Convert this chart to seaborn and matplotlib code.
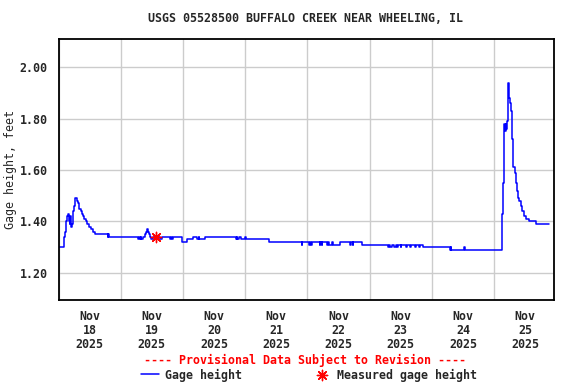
import numpy as np
import pandas as pd
import matplotlib
matplotlib.use('Agg')
import matplotlib.pyplot as plt
import matplotlib.dates as mdates
import matplotlib.ticker as mticker
import seaborn as sns

# gage height readings (time, feet)
gage_times = [
    '2025-11-18 00:00', '2025-11-18 01:45', '2025-11-18 02:00', '2025-11-18 02:15',
    '2025-11-18 02:30', '2025-11-18 02:45', '2025-11-18 03:00', '2025-11-18 03:15',
    '2025-11-18 03:30', '2025-11-18 03:45', '2025-11-18 04:00', '2025-11-18 04:15',
    '2025-11-18 04:30', '2025-11-18 04:45', '2025-11-18 05:00', '2025-11-18 05:15',
    '2025-11-18 05:30', '2025-11-18 05:45', '2025-11-18 06:00', '2025-11-18 06:15',
    '2025-11-18 06:30', '2025-11-18 07:00', '2025-11-18 07:15', '2025-11-18 07:30',
    '2025-11-18 07:45', '2025-11-18 08:00', '2025-11-18 08:30', '2025-11-18 09:00',
    '2025-11-18 09:30', '2025-11-18 10:00', '2025-11-18 10:30', '2025-11-18 11:00',
    '2025-11-18 11:45', '2025-11-18 12:30', '2025-11-18 13:15', '2025-11-18 14:00',
    '2025-11-18 19:00', '2025-11-18 19:15', '2025-11-18 19:30',
    '2025-11-19 06:45', '2025-11-19 07:00', '2025-11-19 07:15', '2025-11-19 07:45',
    '2025-11-19 08:00', '2025-11-19 08:30', '2025-11-19 09:30', '2025-11-19 09:45',
    '2025-11-19 10:15', '2025-11-19 10:30', '2025-11-19 10:45', '2025-11-19 11:15',
    '2025-11-19 11:45', '2025-11-19 12:15', '2025-11-19 15:15', '2025-11-19 15:45',
    '2025-11-19 19:00', '2025-11-19 19:30', '2025-11-19 19:45', '2025-11-19 20:15',
    '2025-11-19 23:45',
    '2025-11-20 01:30', '2025-11-20 04:00', '2025-11-20 05:30', '2025-11-20 06:00',
    '2025-11-20 06:15', '2025-11-20 08:30', '2025-11-20 20:30', '2025-11-20 20:45',
    '2025-11-20 21:00', '2025-11-20 21:30', '2025-11-20 22:15',
    '2025-11-21 00:00', '2025-11-21 00:15', '2025-11-21 09:15', '2025-11-21 21:45',
    '2025-11-21 22:00',
    '2025-11-22 00:45', '2025-11-22 01:00', '2025-11-22 01:15', '2025-11-22 01:45',
    '2025-11-22 04:45', '2025-11-22 05:00', '2025-11-22 05:30', '2025-11-22 05:45',
    '2025-11-22 07:30', '2025-11-22 08:00', '2025-11-22 08:15', '2025-11-22 09:30',
    '2025-11-22 09:45', '2025-11-22 12:30', '2025-11-22 16:30', '2025-11-22 16:45',
    '2025-11-22 17:30', '2025-11-22 17:45', '2025-11-22 21:00',
    '2025-11-23 07:00', '2025-11-23 07:30', '2025-11-23 08:00', '2025-11-23 08:30',
    '2025-11-23 09:30', '2025-11-23 10:00', '2025-11-23 10:30', '2025-11-23 11:00',
    '2025-11-23 12:00', '2025-11-23 12:15', '2025-11-23 14:00', '2025-11-23 14:30',
    '2025-11-23 15:30', '2025-11-23 16:00', '2025-11-23 17:30', '2025-11-23 18:00',
    '2025-11-23 19:00', '2025-11-23 19:30', '2025-11-23 20:30',
    '2025-11-24 07:00', '2025-11-24 07:15', '2025-11-24 07:30', '2025-11-24 12:30',
    '2025-11-24 12:45',
    '2025-11-25 03:00', '2025-11-25 03:15', '2025-11-25 03:45', '2025-11-25 04:00',
    '2025-11-25 04:15', '2025-11-25 04:30', '2025-11-25 04:45', '2025-11-25 05:00',
    '2025-11-25 05:15', '2025-11-25 05:30', '2025-11-25 05:45', '2025-11-25 06:15',
    '2025-11-25 06:30', '2025-11-25 06:45', '2025-11-25 07:15', '2025-11-25 08:00',
    '2025-11-25 08:30', '2025-11-25 08:45', '2025-11-25 09:15', '2025-11-25 09:45',
    '2025-11-25 10:15', '2025-11-25 10:45', '2025-11-25 11:30', '2025-11-25 12:30',
    '2025-11-25 13:30', '2025-11-25 16:00', '2025-11-25 21:15',
]
gage_values = [
    1.30, 1.30, 1.32, 1.34,
    1.36, 1.38, 1.40, 1.42,
    1.43, 1.43, 1.40, 1.39,
    1.42, 1.40, 1.38, 1.39,
    1.42, 1.44, 1.46, 1.47,
    1.49, 1.49, 1.48, 1.47,
    1.46, 1.45, 1.44, 1.43,
    1.42, 1.41, 1.40, 1.39,
    1.38, 1.37, 1.36, 1.35,
    1.34, 1.35, 1.34,
    1.33, 1.34, 1.33, 1.34,
    1.33, 1.34, 1.35, 1.36,
    1.37, 1.36, 1.35, 1.34,
    1.33, 1.34, 1.33, 1.34,
    1.33, 1.34, 1.33, 1.34,
    1.32,
    1.33, 1.34, 1.33, 1.34,
    1.33, 1.34, 1.33, 1.34,
    1.33, 1.34, 1.33,
    1.34, 1.33, 1.32, 1.31,
    1.32,
    1.31, 1.32, 1.31, 1.32,
    1.31, 1.32, 1.31, 1.32,
    1.31, 1.32, 1.31, 1.32,
    1.31, 1.32, 1.31, 1.32,
    1.31, 1.32, 1.31,
    1.30, 1.31, 1.30, 1.31,
    1.30, 1.31, 1.30, 1.31,
    1.30, 1.31, 1.30, 1.31,
    1.30, 1.31, 1.30, 1.31,
    1.30, 1.31, 1.30,
    1.29, 1.30, 1.29, 1.30,
    1.29,
    1.43, 1.55, 1.76, 1.78,
    1.75, 1.78, 1.76, 1.79,
    1.85, 1.94, 1.88, 1.86,
    1.83, 1.72, 1.61, 1.59,
    1.55, 1.52, 1.49, 1.48,
    1.46, 1.44, 1.42, 1.41,
    1.40, 1.39, 1.39,
]

# field measurement
meas_times = ['2025-11-19 13:25']
meas_values = [1.34]

title = 'USGS 05528500 BUFFALO CREEK NEAR WHEELING, IL'

df = pd.DataFrame({'time': pd.to_datetime(gage_times), 'gage': gage_values})
meas = pd.DataFrame({'time': pd.to_datetime(meas_times), 'gage': meas_values})

sns.set_style('white')
plt.rcParams['font.family'] = ['DejaVu Sans Mono']
plt.rcParams['font.weight'] = 'bold'
plt.rcParams['font.size'] = 8.4

fig = plt.figure(figsize=(5.76, 3.84), dpi=100)
ax = fig.add_axes([0.1016, 0.2188, 0.8597, 0.6789])

sns.lineplot(data=df, x='time', y='gage', ax=ax, color='#0000ff', lw=1.1,
             drawstyle='steps-post', estimator=None, label='Gage height')
sns.scatterplot(data=meas, x='time', y='gage', ax=ax, color='red',
                marker=(8, 2, 0), s=55, linewidth=1.0, zorder=5,
                label='Measured gage height')
if ax.get_legend() is not None:
    ax.get_legend().remove()

ax.set_xlim(pd.Timestamp('2025-11-18 00:00'), pd.Timestamp('2025-11-25 23:00'))
ax.set_ylim(1.094, 2.109)
ax.set_yticks([1.2, 1.4, 1.6, 1.8, 2.0])
ax.yaxis.set_major_formatter(mticker.FormatStrFormatter('%.2f'))

ax.xaxis.set_major_locator(mdates.HourLocator(byhour=12))
ax.xaxis.set_major_formatter(mdates.DateFormatter('%b\n%d\n%Y'))
ax.xaxis.set_minor_locator(mdates.DayLocator())

ax.grid(False)
ax.grid(axis='x', which='minor', color='#cccccc', lw=1)
ax.grid(axis='y', which='major', color='#cccccc', lw=1)
ax.set_axisbelow(True)
ax.tick_params(axis='both', which='both', length=0)
ax.tick_params(axis='y', pad=8)
ax.tick_params(axis='x', pad=7)
for lbl in ax.get_xticklabels():
    lbl.set_linespacing(1.12)

for sp in ax.spines.values():
    sp.set_color('black')
    sp.set_linewidth(1.3)

ax.set_xlabel('')
ax.set_ylabel('Gage height, feet', va='center')
ax.yaxis.set_label_coords(-0.096, 0.5)
fig.text(306 / 576, 1 - 19 / 384, title, ha='center', va='center')
fig.text(305 / 576, 1 - 360 / 384,
         '---- Provisional Data Subject to Revision ----',
         ha='center', va='center', color='red')

handles, labels = ax.get_legend_handles_labels()
fig.legend(handles, labels, loc='center', ncol=2, frameon=False,
           bbox_to_anchor=(308.7 / 576, 1 - 375 / 384),
           handlelength=1.55, handletextpad=0.5, columnspacing=6.1,
           borderpad=0, borderaxespad=0)

fig.savefig('out.png', dpi=100)
